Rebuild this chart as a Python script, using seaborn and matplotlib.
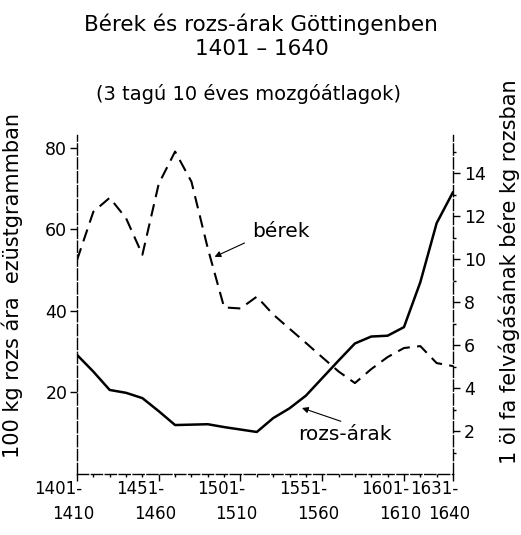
import numpy as np
import pandas as pd
import matplotlib
matplotlib.use("Agg")
import matplotlib.pyplot as plt
import matplotlib.transforms as mtransforms
import seaborn as sns

# ---------------- data ----------------
decades = ["1401-1410", "1411-1420", "1421-1430", "1431-1440", "1441-1450",
           "1451-1460", "1461-1470", "1471-1480", "1481-1490", "1491-1500",
           "1501-1510", "1511-1520", "1521-1530", "1531-1540", "1541-1550",
           "1551-1560", "1561-1570", "1571-1580", "1581-1590", "1591-1600",
           "1601-1610", "1611-1620", "1621-1630", "1631-1640"]
# 100 kg rye price in silver grams (left axis, solid)
rozs_arak = [29.2, 25.1, 20.6, 19.9, 18.6, 15.4, 12.0, 12.1, 12.2, 11.5,
             10.9, 10.3, 13.7, 16.1, 19.2, 23.5, 27.8, 32.0, 33.7, 33.9,
             36.0, 47.0, 61.5, 69.1]
# wages in kg rye (right axis, dashed)
berek = [9.95, 12.2, 12.85, 11.9, 10.2, 13.5, 15.0, 13.6, 10.5, 7.75,
         7.7, 8.25, 7.42, 6.76, 6.1, 5.43, 4.77, 4.23, 4.88, 5.44,
         5.86, 5.95, 5.16, 5.02]
xtick_pos = [0, 5, 10, 15, 20, 23]
xtick_top = ["1401-", "1451-", "1501-", "1551-", "1601-", "1631-"]
xtick_bottom = ["1410", "1460", "1510", "1560", "1610", "1640"]
left_ticks = [20, 40, 60, 80]
right_ticks = [2, 4, 6, 8, 10, 12, 14]

df = pd.DataFrame({"idx": np.arange(len(decades)), "decade": decades,
                   "rozs": rozs_arak, "berek": berek})

# ---------------- style ----------------
sns.set_style("white")
plt.rcParams["font.family"] = ["DejaVu Sans"]
plt.rcParams["axes.linewidth"] = 1.0
for k in ("text.color", "axes.labelcolor", "xtick.color", "ytick.color", "axes.edgecolor"):
    plt.rcParams[k] = "black"

W, H = 521, 535
fig = plt.figure(figsize=(W / 100, H / 100), dpi=100)
ax = fig.add_axes([77 / W, (H - 474) / H, (453 - 77) / W, (474 - 135) / H])

sns.lineplot(data=df, x="idx", y="rozs", ax=ax, color="black", lw=1.8)
ax2 = ax.twinx()
sns.lineplot(data=df, x="idx", y="berek", ax=ax2, color="black", lw=1.5)
ax2.lines[0].set_linestyle((0, (6, 3.5)))

ax.set_xlim(0, len(decades) - 1)
ax.set_ylim(0, 83.1)
ax2.set_ylim(0, 15.77)

for a in (ax, ax2):
    a.set_xlabel("")
    a.set_ylabel("")
    a.spines["top"].set_visible(False)
    for s in ("left", "right", "bottom"):
        a.spines[s].set_linestyle((0, (8, 2)))
        a.spines[s].set_linewidth(1.0)
        a.spines[s].set_color("black")

ax.spines["right"].set_visible(False)
ax2.spines["left"].set_visible(False)
ax2.spines["bottom"].set_visible(False)

ax.set_yticks(left_ticks)
ax.set_yticklabels([str(v) for v in left_ticks])
ax.tick_params(axis="y", direction="out", length=5, width=1, labelsize=12.5, pad=2, left=True)
ax2.set_yticks(right_ticks)
ax2.set_yticks(np.arange(1, 16, 2), minor=True)
ax2.set_yticklabels([str(v) for v in right_ticks])
ax2.tick_params(axis="y", which="major", direction="out", length=5, width=1, labelsize=12.5, pad=3, right=True)
ax2.tick_params(axis="y", which="minor", direction="out", length=2, width=1, right=True)

ax.set_xticks(xtick_pos)
ax.set_xticklabels([])
ax.set_xticks(np.arange(len(decades)), minor=True)
ax.tick_params(axis="x", which="major", direction="out", length=5, width=1, bottom=True)
ax.tick_params(axis="x", which="minor", direction="out", length=2, width=1, bottom=True)

# two-line x tick labels
base = mtransforms.blended_transform_factory(ax.transData, fig.transFigure)
for p, t1, t2 in zip(xtick_pos, xtick_top, xtick_bottom):
    tr1 = base + mtransforms.ScaledTranslation(-19 / 100, 0, fig.dpi_scale_trans)
    tr2 = base + mtransforms.ScaledTranslation(-4 / 100, 0, fig.dpi_scale_trans)
    fig.text(p, (H - 489) / H, t1, transform=tr1, ha="center", va="center", fontsize=12)
    fig.text(p, (H - 514) / H, t2, transform=tr2, ha="center", va="center", fontsize=12)

# titles
fig.text(0.5, (H - 24) / H, "Bérek és rozs-árak Göttingenben", ha="center", va="center", fontsize=15.5)
fig.text(262 / W, (H - 49) / H, "1401 – 1640", ha="center", va="center", fontsize=15.5)
fig.text(248 / W, (H - 94) / H, "(3 tagú 10 éves mozgóátlagok)", ha="center", va="center", fontsize=14)

# axis labels
fig.text(12 / W, (H - 285) / H, "100 kg rozs ára  ezüstgrammban", rotation=90,
         ha="center", va="center", fontsize=15)
fig.text(509 / W, (H - 272) / H, "1 öl fa felvágásának bére kg rozsban", rotation=90,
         ha="center", va="center", fontsize=15)

# annotations
ax2.annotate("", xy=(8.26, 10.05), xytext=(10.4, 10.8),
             arrowprops=dict(arrowstyle="-|>", color="black", lw=0.8, mutation_scale=9))
ax2.text(12.5, 11.3, "bérek", ha="center", va="center", fontsize=14.5)
ax.annotate("", xy=(13.6, 16.4), xytext=(16.3, 12.7),
            arrowprops=dict(arrowstyle="-|>", color="black", lw=0.8, mutation_scale=9))
ax.text(16.4, 9.6, "rozs-árak", ha="center", va="center", fontsize=14.5)

fig.savefig("out.png", dpi=100)
